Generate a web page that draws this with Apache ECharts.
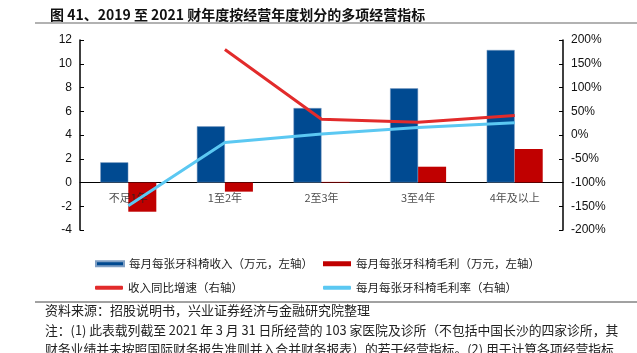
<!DOCTYPE html>
<html lang="zh">
<head>
    <meta charset="UTF-8">
    <title>按经营年度划分的多项经营指标</title>
    <script src="https://cdn.jsdelivr.net/npm/echarts@6/dist/echarts.min.js"></script>
</head>
<body style="margin:0">
<div id="chart" style="width: 637px;height: 353px;"></div>
</body>
<script>
    var categories = ['不足1年', '1至2年', '2至3年', '3至4年', '4年及以上'];
    // 每月每张牙科椅收入（万元）
    var revenue = [1.70, 4.73, 6.27, 7.93, 11.16];
    // 每月每张牙科椅毛利（万元）
    var grossProfit = [-2.46, -0.77, 0.05, 1.33, 2.82];
    // 收入同比增速（%）
    var revenueGrowth = ['-', 180, 33, 27, 41];
    // 每月每张牙科椅毛利率（%）
    var grossMargin = [-149, -16, 2, 16, 26];

    var names = ['每月每张牙科椅收入（万元，左轴）', '每月每张牙科椅毛利（万元，左轴）',
        '收入同比增速（右轴）', '每月每张牙科椅毛利率（右轴）'];

    var cjk = '"Noto Sans CJK SC", sans-serif';
    var num = '"Liberation Sans", Arial, sans-serif';

    function legendAt(name, left, top, icon, h) {
        return {
            data: [name],
            left: left,
            top: top,
            icon: icon,
            itemWidth: 28,
            itemHeight: h,
            itemGap: 4,
            selectedMode: false,
            textStyle: {fontFamily: cjk, fontSize: 11.5, color: '#222'}
        };
    }

    var chart = echarts.init(document.getElementById('chart'));
    var option = {
        animation: false,
        title: {
            text: '图 41、2019 至 2021 财年度按经营年度划分的多项经营指标',
            left: 45,
            top: 3,
            textStyle: {fontFamily: cjk, fontSize: 14, fontWeight: 'bold', color: '#111'}
        },
        legend: [
            legendAt(names[0], 90, 253, 'rect', 5),
            legendAt(names[1], 318, 253, 'rect', 5),
            legendAt(names[2], 90, 277, 'roundRect', 4),
            legendAt(names[3], 318, 277, 'roundRect', 4)
        ],
        grid: {left: 80, right: 74, top: 40, bottom: 123},
        xAxis: {
            type: 'category',
            data: categories,
            axisLine: {onZero: true, onZeroAxisIndex: 0, lineStyle: {color: '#000', width: 1}},
            axisTick: {show: false},
            axisLabel: {show: false}
        },
        yAxis: [{
            type: 'value',
            min: -4,
            max: 12,
            interval: 2,
            splitLine: {show: false},
            axisLine: {show: true, lineStyle: {color: '#000', width: 1.5}},
            axisTick: {show: true, inside: true, length: 4, lineStyle: {color: '#000'}},
            axisLabel: {fontFamily: num, fontSize: 12, color: '#111', margin: 8}
        }, {
            type: 'value',
            min: -200,
            max: 200,
            interval: 50,
            splitLine: {show: false},
            axisLine: {show: true, lineStyle: {color: '#000', width: 1.5}},
            axisTick: {show: true, inside: true, length: 4, lineStyle: {color: '#000'}},
            axisLabel: {fontFamily: num, fontSize: 12, color: '#111', margin: 8, formatter: '{value}%'}
        }],
        series: [{
            name: names[0],
            type: 'bar',
            data: revenue,
            barWidth: '29%',
            barGap: '0%',
            itemStyle: {color: '#004A91', borderColor: '#7f9fc4', borderWidth: 0.5}
        }, {
            name: names[1],
            type: 'bar',
            data: grossProfit,
            barWidth: '29%',
            barGap: '0%',
            itemStyle: {color: '#C00000'}
        }, {
            // 类目标签：贴在零轴下方，压在柱子上面
            name: 'catLabels',
            type: 'scatter',
            data: categories.map(function (c) { return [c, 0]; }),
            symbolSize: 1,
            silent: true,
            itemStyle: {color: 'rgba(0,0,0,0)'},
            z: 5,
            label: {
                show: true,
                position: 'bottom',
                distance: 9,
                formatter: function (p) { return categories[p.dataIndex]; },
                fontFamily: cjk,
                fontSize: 11,
                color: '#222'
            }
        }, {
            name: names[2],
            type: 'line',
            yAxisIndex: 1,
            data: revenueGrowth,
            symbol: 'none',
            itemStyle: {color: '#E22B2B'},
            lineStyle: {width: 3, color: '#E22B2B'},
            z: 6
        }, {
            name: names[3],
            type: 'line',
            yAxisIndex: 1,
            data: grossMargin,
            symbol: 'none',
            itemStyle: {color: '#5BC8F2'},
            lineStyle: {width: 3, color: '#5BC8F2'},
            z: 7
        }],
        graphic: [{
            type: 'line',
            shape: {x1: 35, y1: 23, x2: 637, y2: 23},
            style: {stroke: '#999', lineWidth: 1.5}
        }, {
            type: 'line',
            shape: {x1: 35, y1: 302, x2: 637, y2: 302},
            style: {stroke: '#444', lineWidth: 1}
        }, {
            type: 'text',
            left: 45,
            top: 304,
            style: {text: '资料来源：招股说明书，兴业证券经济与金融研究院整理', font: '13px "Noto Sans CJK SC"', fill: '#222'}
        }, {
            type: 'text',
            left: 45,
            top: 324,
            style: {text: '注：(1) 此表载列截至 2021 年 3 月 31 日所经营的 103 家医院及诊所（不包括中国长沙的四家诊所，其', font: '12.8px "Noto Sans CJK SC"', fill: '#222'}
        }, {
            type: 'text',
            left: 45,
            top: 343,
            style: {text: '财务业绩并未按照国际财务报告准则并入合并财务报表）的若干经营指标。(2) 用于计算各项经营指标', font: '12.8px "Noto Sans CJK SC"', fill: '#222'}
        }]
    };
    chart.setOption(option);
</script>
</html>
